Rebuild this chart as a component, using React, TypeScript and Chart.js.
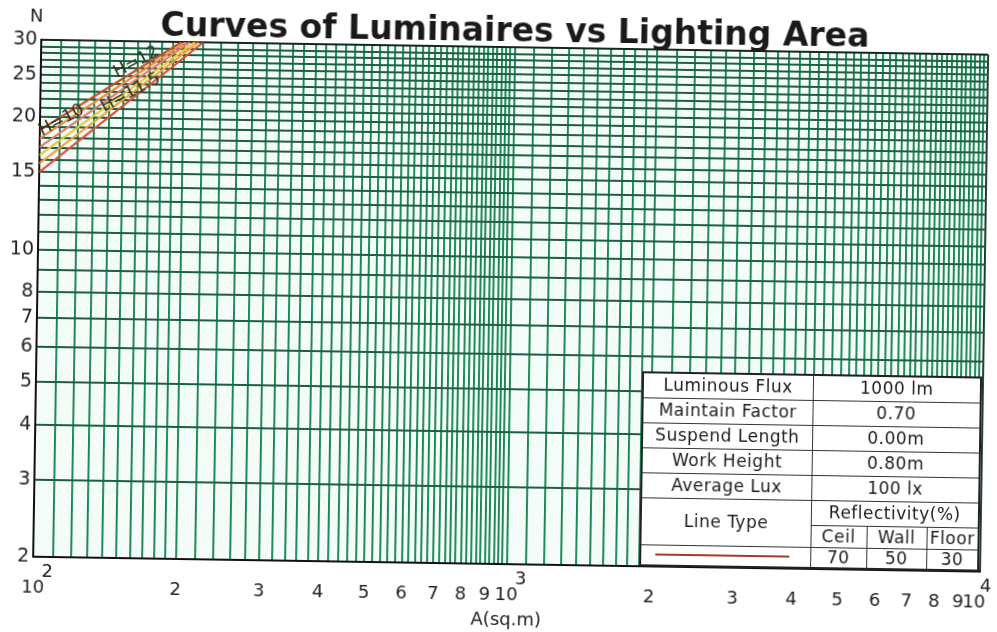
import React, { useEffect, useRef } from 'react';
import { Chart, registerables } from 'chart.js';

Chart.register(...registerables);

// ---- grid ticks (log-log paper) ----
const xGridTicks = [
  100, 110, 120, 130, 140, 150, 160, 170, 180, 190,
  200, 220, 240, 260, 280, 300, 320, 340, 360, 380, 400, 420, 440, 460, 480,
  500, 520, 540, 560, 580, 600, 620, 640, 660, 680, 700, 720, 740, 760, 780,
  800, 820, 840, 860, 880, 900, 920, 940, 960, 980,
  1000, 1100, 1200, 1300, 1400, 1500, 1600, 1700, 1800, 1900,
  2000, 2200, 2400, 2600, 2800, 3000, 3200, 3400, 3600, 3800, 4000, 4200, 4400, 4600, 4800,
  5000, 5200, 5400, 5600, 5800, 6000, 6200, 6400, 6600, 6800, 7000, 7200, 7400, 7600, 7800,
  8000, 8200, 8400, 8600, 8800, 9000, 9200, 9400, 9600, 9800, 10000,
];
const xLabelValues = [100, 200, 300, 400, 500, 600, 700, 800, 900, 1000, 2000, 3000, 4000, 5000, 6000, 7000, 8000, 9000, 10000];
const xLabelSup = ['     2', '', '', '', '', '', '', '', '', '     3', '', '', '', '', '', '', '', '', '  4'];
const xLabelMain = ['10', '2', '3', '4', '5', '6', '7', '8', '9', '10', '2', '3', '4', '5', '6', '7', '8', '9', '10  '];

const yGridTicks = [2, 3, 4, 5, 6, 7, 8, 9, 10, 11, 12, 13, 14, 15, 16, 17, 18, 19, 20, 21, 22, 23, 24, 25, 26, 27, 28, 29, 30];
const yLabelValues = [2, 3, 4, 5, 6, 7, 8, 10, 15, 20, 25, 30];

// ---- curves (A in sq.m, N luminaires) ----
const curveA = [
  [100, 220],
  [100, 215],
  [100, 211],
  [100, 206],
  [100, 202],
  [100, 198],
];
const curveN = [
  [15.0, 30],
  [15.7, 30],
  [16.4, 30],
  [17.1, 30],
  [17.9, 30],
  [18.7, 30],
];
const curveColors = ['#d9503c', '#f0a23e', '#e8c83c', '#e27a78', '#ee8a3a', '#c2502c'];

const hLabelTexts = ['H=10', 'H=11.5', 'H=12'];
const hLabelA = [111, 155, 159];
const hLabelN = [19.7, 22.9, 26.9];

// ---- parameter table ----
const tableLabels = ['Luminous Flux', 'Maintain Factor', 'Suspend Length', 'Work Height', 'Average Lux'];
const tableValues = ['1000 lm', '0.70', '0.00m', '0.80m', '100 lx'];
const reflectHeaders = ['Ceil', 'Wall', 'Floor'];
const reflectValues = ['70', '50', '30'];

const FONT = "'DejaVu Sans', Verdana, sans-serif";

const bgPlugin = {
  id: 'bgPlugin',
  beforeDraw(chart: any) {
    const { ctx, chartArea } = chart;
    ctx.save();
    ctx.fillStyle = '#ffffff';
    ctx.fillRect(0, 0, chart.width, chart.height);
    ctx.fillStyle = '#f3fcf8';
    ctx.fillRect(chartArea.left, chartArea.top, chartArea.right - chartArea.left, chartArea.bottom - chartArea.top);
    ctx.restore();
  },
};

const labelPlugin = {
  id: 'labelPlugin',
  afterDatasetsDraw(chart: any) {
    const { ctx, chartArea, scales } = chart;
    ctx.save();
    ctx.fillStyle = '#2e2e22';
    ctx.font = `17px ${FONT}`;
    ctx.textAlign = 'center';
    ctx.textBaseline = 'middle';
    hLabelTexts.forEach((t, i) => {
      const x = scales.x.getPixelForValue(hLabelA[i]);
      const y = scales.y.getPixelForValue(hLabelN[i]);
      ctx.save();
      ctx.translate(x, y);
      ctx.rotate((-29 * Math.PI) / 180);
      ctx.fillText(t, 0, 0);
      ctx.restore();
    });
    ctx.fillStyle = '#222';
    ctx.font = `18px ${FONT}`;
    ctx.fillText('N', chartArea.left - 5, chartArea.top - 23);
    ctx.restore();
  },
};

function ParamTable() {
  const cell: React.CSSProperties = {
    border: '1.5px solid #333',
    padding: 0,
    textAlign: 'center',
    verticalAlign: 'middle',
    lineHeight: '1',
    whiteSpace: 'nowrap',
    overflow: 'hidden',
  };
  const rowH = [25, 25, 25, 25, 25, 25, 22, 21];
  return (
    <table
      style={{
        position: 'absolute',
        left: 643,
        top: 369,
        width: 338,
        height: 193,
        borderCollapse: 'collapse',
        tableLayout: 'fixed',
        fontFamily: FONT,
        fontSize: 17,
        letterSpacing: '0.5px',
        color: '#1c1c1c',
        background: '#fff',
        border: '2px solid #222',
      }}
    >
      <colgroup>
        <col style={{ width: 170 }} />
        <col style={{ width: 56 }} />
        <col style={{ width: 60 }} />
        <col style={{ width: 52 }} />
      </colgroup>
      <tbody>
        {tableLabels.map((l, i) => (
          <tr key={l} style={{ height: rowH[i] }}>
            <td style={cell}>{l}</td>
            <td style={cell} colSpan={3}>{tableValues[i]}</td>
          </tr>
        ))}
        <tr style={{ height: rowH[5] }}>
          <td style={cell} rowSpan={2}>Line Type</td>
          <td style={cell} colSpan={3}>Reflectivity(%)</td>
        </tr>
        <tr style={{ height: rowH[6] }}>
          {reflectHeaders.map((h) => (
            <td key={h} style={cell}>{h}</td>
          ))}
        </tr>
        <tr style={{ height: rowH[7] }}>
          <td style={{ ...cell, textAlign: 'left' }}>
            <div style={{ marginLeft: 14, width: 134, height: 2, background: '#9e3d26' }} />
          </td>
          {reflectValues.map((v, i) => (
            <td key={i} style={cell}>{v}</td>
          ))}
        </tr>
      </tbody>
    </table>
  );
}

export default function App() {
  const canvasRef = useRef<HTMLCanvasElement | null>(null);

  useEffect(() => {
    if (!canvasRef.current) return;
    const datasets = curveA.map((aArr, i) => ({
      label: `curve${i}`,
      data: aArr.map((a, j) => ({ x: a, y: curveN[i][j] })),
      borderColor: curveColors[i],
      borderWidth: 2.2,
      pointRadius: 0,
      fill: false,
      tension: 0,
    }));
    const chart = new Chart(canvasRef.current, {
      type: 'line',
      data: { datasets },
      options: {
        responsive: false,
        animation: false,
        devicePixelRatio: 1,
        layout: { padding: { left: 0, right: 13, top: 0, bottom: 0 } },
        plugins: {
          legend: { display: false },
          tooltip: { enabled: false },
          title: {
            display: true,
            text: 'Curves of Luminaires vs Lighting Area',
            color: '#1a1a1a',
            font: { family: FONT, size: 33, weight: 'bold', lineHeight: 0.8 },
            padding: { top: 19.4, bottom: 1.2 },
            fullSize: false,
          },
        },
        scales: {
          x: {
            type: 'logarithmic',
            min: 100,
            max: 10000,
            afterBuildTicks: (s: any) => {
              s.ticks = xGridTicks.map((v) => ({ value: v }));
            },
            afterFit: (s: any) => {
              s.height = 68;
              s.paddingRight = 0;
              s.paddingLeft = 0;
            },
            ticks: {
              autoSkip: false,
              maxRotation: 0,
              minRotation: 0,
              padding: 7,
              color: '#222',
              font: { family: FONT, size: 18, lineHeight: 0.89 },
              callback: (v: any) => {
                const i = xLabelValues.indexOf(Number(v));
                return i < 0 ? '' : [xLabelSup[i], xLabelMain[i]];
              },
            },
            grid: {
              color: (c: any) => (c.tick && c.tick.value === 10000 ? '#1a3326' : '#168550'),
              lineWidth: 1.9,
              drawTicks: false,
            },
            border: { display: true, color: '#111', width: 2 },
            title: {
              display: true,
              text: 'A(sq.m)',
              color: '#222',
              font: { family: FONT, size: 18, lineHeight: 1.2 },
              padding: { top: 0, bottom: 1 },
            },
          },
          y: {
            type: 'logarithmic',
            min: 2,
            max: 30,
            afterBuildTicks: (s: any) => {
              s.ticks = yGridTicks.map((v) => ({ value: v }));
            },
            afterFit: (s: any) => {
              s.width = 37;
            },
            ticks: {
              autoSkip: false,
              padding: 4,
              color: '#222',
              font: { family: FONT, size: 19 },
              callback: (v: any) => (yLabelValues.includes(Number(v)) ? String(v) : ''),
            },
            grid: {
              color: (c: any) => (c.tick && c.tick.value === 30 ? '#15261d' : '#1e5f40'),
              lineWidth: 1.9,
              drawTicks: false,
            },
            border: { display: true, color: '#111', width: 2 },
          },
        },
      },
      plugins: [bgPlugin, labelPlugin],
    } as any);
    return () => chart.destroy();
  }, []);

  return (
    <div
      style={{
        position: 'absolute',
        left: 0,
        top: 0,
        width: 997,
        height: 632,
        background: '#fff',
        transform: 'rotate(0.9deg)',
        transformOrigin: '498.5px 316px',
      }}
    >
      <canvas ref={canvasRef} width={997} height={632} style={{ display: 'block' }} />
      <ParamTable />
    </div>
  );
}
